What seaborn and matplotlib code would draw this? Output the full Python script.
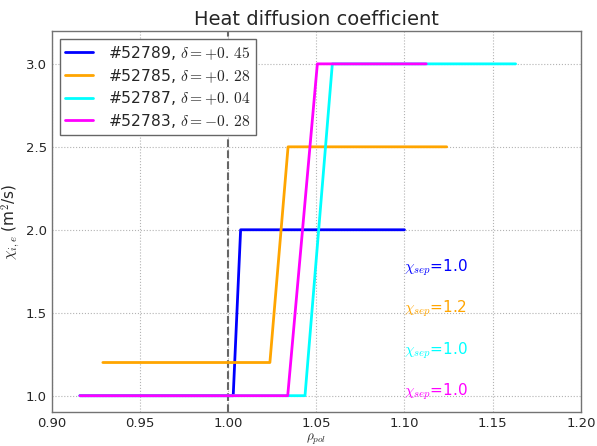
import matplotlib
matplotlib.use("Agg")
import matplotlib.pyplot as plt
import seaborn as sns
import numpy as np

# ---- data ----
rho_52789 = [0.916, 1.0029, 1.0071, 1.100]
chi_52789 = [1.0, 1.0, 2.0, 2.0]
rho_52785 = [0.929, 1.0237, 1.0340, 1.1239]
chi_52785 = [1.2, 1.2, 2.5, 2.5]
rho_52787 = [0.916, 1.0436, 1.0591, 1.163]
chi_52787 = [1.0, 1.0, 3.0, 3.0]
rho_52783 = [0.916, 1.0338, 1.0506, 1.1123]
chi_52783 = [1.0, 1.0, 3.0, 3.0]

labels = [r"#52789, $\delta=+0.\,45$", r"#52785, $\delta=+0.\,28$",
          r"#52787, $\delta=+0.\,04$", r"#52783, $\delta=-0.\,28$"]
colors = ["#0000ff", "#ffa500", "#00ffff", "#ff00ff"]
chi_sep = ["1.0", "1.2", "1.0", "1.0"]
chi_sep_y = [1.75, 1.5, 1.25, 1.0]
xticks = [0.90, 0.95, 1.00, 1.05, 1.10, 1.15, 1.20]
yticks = [1.0, 1.5, 2.0, 2.5, 3.0]

sns.set_style("whitegrid")
plt.rcParams["font.family"] = ["DejaVu Sans"]
plt.rcParams["mathtext.fontset"] = "cm"

fig = plt.figure(figsize=(5.97, 4.46), dpi=100)
ax = fig.add_axes([0.0866, 0.0756, 0.8864, 0.8556])

series = [(rho_52789, chi_52789), (rho_52785, chi_52785),
          (rho_52787, chi_52787), (rho_52783, chi_52783)]
for (xs, ys), lab, c in zip(series, labels, colors):
    sns.lineplot(x=xs, y=ys, color=c, lw=2, label=lab, sort=False,
                 estimator=None, ax=ax)

ax.axvline(1.0, color="0.4", ls="--", lw=1.5, zorder=1)

for txt, yy, c in zip(chi_sep, chi_sep_y, colors):
    ax.text(1.10, yy, r"$\chi_{sep}$=" + txt, color=c, fontsize=11)

ax.set_xlim(0.90, 1.20)
ax.set_ylim(0.9, 3.2)
ax.set_xticks(xticks)
ax.set_xticklabels([f"{v:.2f}" for v in xticks], fontsize=9.5)
ax.set_yticks(yticks)
ax.set_yticklabels([f"{v:.1f}" for v in yticks], fontsize=9.5)
ax.tick_params(direction="out", length=2.5, color="0.5", pad=1)
ax.grid(True, color="0.7", ls=":", lw=0.8)
for s in ax.spines.values():
    s.set_color("0.45")
    s.set_linewidth(1.0)

ax.set_title("Heat diffusion coefficient", fontsize=14, pad=4)
ax.set_xlabel(r"$\rho_{pol}$", fontsize=9.5)
ax.set_ylabel(r"$\chi_{i,e}$ (m$^2$/s)", fontsize=11)
ax.xaxis.set_label_coords(0.5, -0.0505)
ax.yaxis.set_label_coords(-0.056, 0.5)

leg = ax.legend(loc="upper left", fontsize=11.2, handlelength=1.8,
                handletextpad=1.0, borderpad=0.3,
                frameon=True, fancybox=False, shadow=False,
                borderaxespad=0.55, labelspacing=0.3)
leg.get_frame().set_edgecolor("0.4")
leg.get_frame().set_linewidth(1.0)
leg.get_frame().set_alpha(1.0)

fig.savefig("out.png", dpi=100)
